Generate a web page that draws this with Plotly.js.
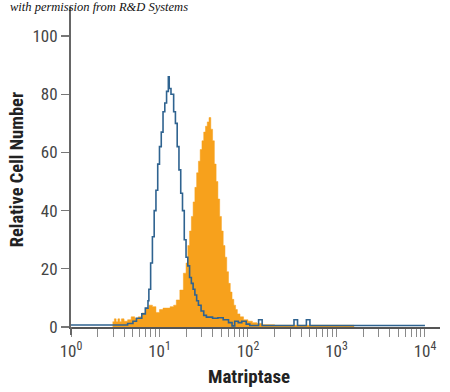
<!DOCTYPE html>
<html>
<head>
<meta charset="utf-8">
<script src="https://cdn.plot.ly/plotly-3.0.1.min.js"></script>
<style>
html,body{margin:0;padding:0;background:#fff;}
#chart{width:450px;height:392px;}
</style>
</head>
<body>
<div id="chart"></div>
<script>
// Isotype control (blue outline) — bin left edges in log10 units and counts
var blueLog = [0.00,0.64,0.70,0.74,0.80,0.84,0.87,0.88,0.90,0.92,0.94,0.96,0.98,1.00,1.02,1.04,1.06,1.08,1.10,1.11,1.13,1.16,1.18,1.20,1.22,1.24,1.26,1.28,1.30,1.32,1.34,1.36,1.38,1.40,1.42,1.44,1.47,1.50,1.53,1.60,1.66,1.72,1.78,1.82,1.85,1.89,1.93,1.98,2.02,2.12,2.16,2.52,2.56,2.66,2.70,4.00];
var blueVal = [0.7,1.2,2,3,4.5,6.5,9,13,22,31,40,47,56,62,67,74,77,81,86,82,80,74,70,62,54,46,40,30,24,21,17,15,13,11,9,7.5,5.5,4,3.4,3,3.2,2.5,1.5,0.4,2,1.5,2,1,0.5,2.5,0.5,2.5,0.5,2.5,0.5,0.5];

// Matriptase stained (orange filled)
var orangeLog = [0.47,0.49,0.51,0.53,0.55,0.57,0.60,0.64,0.68,0.72,0.76,0.80,0.84,0.88,0.92,0.96,1.00,1.04,1.08,1.12,1.16,1.19,1.23,1.27,1.30,1.32,1.34,1.36,1.38,1.40,1.42,1.44,1.46,1.48,1.50,1.52,1.54,1.56,1.58,1.60,1.62,1.64,1.66,1.68,1.70,1.72,1.74,1.76,1.78,1.80,1.82,1.84,1.86,1.88,1.91,1.95,2.00,2.05,2.10,2.16,2.30,3.20];
var orangeVal = [1.8,2.8,1.8,2.8,1.8,2.8,2,2.5,3.5,3,3.5,4.8,6.5,7.5,7,5,6,6.5,6.5,7,7.5,9.3,12.7,18.5,22,28,33,38,43,48,53,57,61,64,67,69,70.5,72,68,64,56,50,44,38,33,28,24,19,15,12,9.5,7.5,6,4.5,3.5,2.5,2,1.5,1.2,0.8,0.6,0.6];

var xTickVals = [];
var xTickText = [];
var decades = [1,10,100,1000];
var decadeLabels = ['10<sup>0</sup>','10<sup>1</sup>','10<sup>2</sup>','10<sup>3</sup>'];
decades.forEach(function(d, i){
  for (var m = 1; m <= 9; m++){
    xTickVals.push(d*m);
    xTickText.push(m === 1 ? decadeLabels[i] : '');
  }
});
xTickVals.push(10000); xTickText.push('10<sup>4</sup>');

var yTickVals = [0,20,40,60,80,100];

function toLin(arr){ return arr.map(function(e){ return Math.pow(10, e); }); }

var orangeTrace = {
  x: toLin(orangeLog), y: orangeVal,
  type: 'scatter', mode: 'lines',
  line: {shape: 'hv', color: '#F7A11C', width: 0.5},
  fill: 'tozeroy', fillcolor: '#F7A11C',
  hoverinfo: 'skip', showlegend: false
};
var blueTrace = {
  x: toLin(blueLog), y: blueVal,
  type: 'scatter', mode: 'lines',
  line: {shape: 'hv', color: '#2F6390', width: 1.6},
  hoverinfo: 'skip', showlegend: false
};

var narrow = '"Liberation Sans Narrow", "Roboto Condensed", "Liberation Sans", sans-serif';
var tickFont = {family: narrow, size: 17, color: '#444'};

var layout = {
  width: 450, height: 392,
  margin: {l: 71, r: 10, t: 7, b: 65},
  paper_bgcolor: '#fff', plot_bgcolor: '#fff',
  xaxis: {
    type: 'log', range: [0, 4.17],
    tickmode: 'array', tickvals: xTickVals, ticktext: xTickText,
    ticks: 'outside', ticklen: 8, tickwidth: 1, tickcolor: '#8a8a8a',
    showline: true, linecolor: '#555', linewidth: 1.5,
    showgrid: false, zeroline: false,
    tickfont: tickFont
  },
  yaxis: {
    range: [0, 110],
    tickmode: 'array', tickvals: yTickVals,
    ticks: 'outside', ticklen: 8, tickwidth: 1.2, tickcolor: '#777',
    showline: true, linecolor: '#666', linewidth: 2,
    showgrid: false, zeroline: false,
    tickfont: tickFont
  },
  shapes: [
    {type: 'line', xref: 'paper', yref: 'paper', x0: 0, x1: 0, y0: 0, y1: -0.025,
     line: {color: '#666', width: 2}}
  ],
  annotations: [
    {text: 'with permission from R&amp;D Systems', xref: 'paper', yref: 'paper',
     x: -0.17, y: 1.0, xanchor: 'left', yanchor: 'middle', showarrow: false,
     font: {family: '"Liberation Serif", "DejaVu Serif", serif', size: 12.5, color: '#111', style: 'italic'}},
    {text: '<b>Relative Cell Number</b>', xref: 'paper', yref: 'paper',
     x: -0.146, y: 0.49, xanchor: 'center', yanchor: 'middle', textangle: -90, showarrow: false,
     font: {family: narrow, size: 18.5, color: '#222'}},
    {text: '<b>Matriptase</b>', xref: 'paper', yref: 'paper',
     x: 0.482, y: -0.155, xanchor: 'center', yanchor: 'middle', showarrow: false,
     font: {family: narrow, size: 19, color: '#222'}}
  ]
};

Plotly.newPlot('chart', [orangeTrace, blueTrace], layout, {staticPlot: true, displayModeBar: false});
</script>
</body>
</html>
